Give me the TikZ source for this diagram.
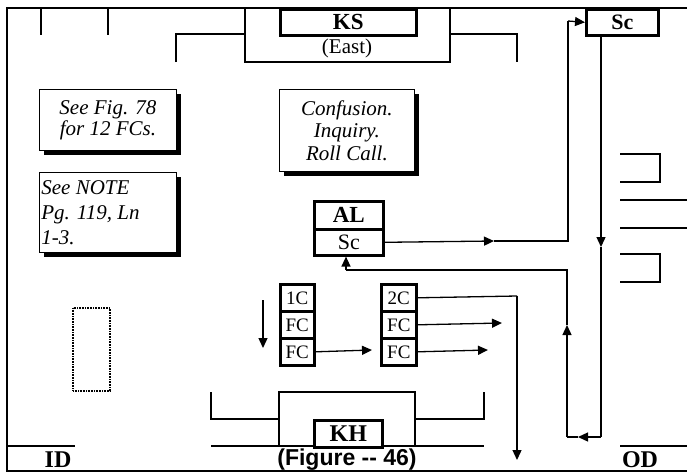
\documentclass[tikz,border=0pt]{standalone}
\usepackage{fontspec}
\setmainfont{Liberation Serif}
\newfontfamily\capfont{Liberation Sans}
\usetikzlibrary{arrows.meta,shadows}
\begin{document}
\begin{tikzpicture}[x=1pt,y=-1pt,line join=miter,
  wall/.style={line width=2.6pt},
  conn/.style={line width=1.3pt},
  arr/.style={conn,-{Triangle[length=10pt,width=9pt]}},
  cell/.style={draw,line width=2.6pt,inner sep=0pt,anchor=north west,fill=white,font=\fontsize{19}{20}\selectfont},
  bcell/.style={cell,font=\fontsize{23}{23}\selectfont\bfseries},
  rcell/.style={cell,font=\fontsize{22}{22}\selectfont},
  note/.style={draw,line width=0.8pt,fill=white,inner sep=0pt,anchor=north west,
    general shadow={fill=black,shadow xshift=5pt,shadow yshift=-5pt},
    font=\fontsize{21}{21}\selectfont\itshape},
  lab/.style={inner sep=0pt,font=\fontsize{24}{24}\selectfont\bfseries}
]
\useasboundingbox (0,0) rectangle (687,474);
% frame
\draw[wall] (687,8) -- (7,8) -- (7,471) -- (687,471);
\draw[wall] (41,8) -- (41,35);
\draw[wall] (108,8) -- (108,35);
% KS structure
\draw[wall] (176,62) -- (176,34) -- (245,34);
\draw[wall] (245,8) -- (245,62) -- (450,62) -- (450,8);
\draw[wall] (450,34) -- (517,34) -- (517,62);
\node[bcell,minimum width=136pt,minimum height=26pt] (ks) at (279,8) {KS};
\node[inner sep=0pt,font=\fontsize{21}{22}\selectfont] (east) at (347,48) {(East)};
% Sc top right
\node[bcell,minimum width=72pt,minimum height=26pt,font=\fontsize{22}{22}\selectfont\bfseries] (sctop) at (585,8) {Sc};
% notes
\node[note,minimum width=137pt,minimum height=61pt,align=center] (n1) at (39,89) {See Fig. 78\\for 12 FCs.};
\node[note,minimum width=135pt,minimum height=82pt,align=center,font=\fontsize{21}{22.5}\selectfont\itshape] (n2) at (279,89) {Confusion.\\Inquiry.\\Roll Call.};
\node[note,minimum width=137pt,minimum height=80pt,text width=133pt,align=flush left,inner xsep=2pt,font=\fontsize{21}{25}\selectfont\itshape] (n3) at (39,172) {See NOTE\\Pg. 119, Ln\\1-3.};
% dotted rect
\draw[line width=2pt,dash pattern=on 0.8pt off 0.8pt] (73,308) rectangle (110,391);
% AL box
\node[bcell,minimum width=69pt,minimum height=28pt] (al) at (313,200) {AL};
\node[rcell,minimum width=69pt,minimum height=26pt] (alsc) at (313,228) {Sc};
% cells
\node[cell,minimum width=34pt,minimum height=27pt] (c1a) at (279,283) {1C};
\node[cell,minimum width=34pt,minimum height=27pt] (c1b) at (279,310) {FC};
\node[cell,minimum width=34pt,minimum height=27pt] (c1c) at (279,337) {FC};
\node[cell,minimum width=35pt,minimum height=27pt] (c2a) at (380,283) {2C};
\node[cell,minimum width=35pt,minimum height=27pt] (c2b) at (380,310) {FC};
\node[cell,minimum width=35pt,minimum height=27pt] (c2c) at (380,337) {FC};
% right brackets
\draw[wall] (620,154) -- (660,154) -- (660,182) -- (620,182);
\draw[wall] (620,200) -- (687,200);
\draw[wall] (620,228) -- (687,228);
\draw[wall] (620,254) -- (660,254) -- (660,282) -- (620,282);
% KH structure
\draw[wall] (211,392) -- (211,419) -- (279,419);
\draw[wall] (279,446) -- (279,392) -- (415,392) -- (415,446);
\draw[wall] (415,419) -- (484,419) -- (484,392);
\draw[wall] (211,446) -- (484,446);
\node[bcell,minimum width=68pt,minimum height=27pt,font=\fontsize{24}{24}\selectfont\bfseries] (kh) at (313,419) {KH};
\draw[wall] (7,446) -- (75,446);
\draw[wall] (620,446) -- (687,446);
\node[lab] (id) at (58,460) {ID};
\node[lab] (od) at (640,460) {OD};
\node[inner sep=0pt,font=\fontsize{23}{23}\selectfont\capfont\bfseries] (fig) at (347,460) {(Figure -- 46)};
% connectors
\coordinate (a1) at (494,241);
\coordinate (a2) at (568,241);
\coordinate (a3) at (568,21);
\draw[arr] (alsc.east) -- (a1);
\draw[conn] (a1) -- (a2) -- (a3);
\draw[arr] (a3) -- (sctop.west);
\coordinate (b0) at (601,34);
\coordinate (b1) at (601,247);
\coordinate (b2) at (601,437);
\coordinate (b3) at (578,437);
\coordinate (b4) at (567,437);
\coordinate (b5) at (567,325);
\coordinate (b6) at (567,270);
\coordinate (b7) at (346,270);
\draw[arr] (b0) -- (b1);
\draw[conn] (b1) -- (b2);
\draw[arr] (b2) -- (b3);
\draw[conn] (b3) -- (b4);
\draw[arr] (b4) -- (b5);
\draw[conn] (b5) -- (b6) -- (b7);
\draw[arr] (b7) -- (alsc.south -| b7);
\coordinate (d1) at (263,300);
\coordinate (d2) at (263,348);
\draw[arr] (d1) -- (d2);
\coordinate (e1) at (372,350);
\draw[arr] (c1c.east) -- (e1);
\coordinate (f1) at (517,296);
\coordinate (f2) at (517,460);
\draw[conn] (c2a.east) -- (f1);
\draw[arr] (f1) -- (f2);
\coordinate (g1) at (502,323);
\draw[arr] (c2b.east) -- (g1);
\coordinate (h1) at (488,350);
\draw[arr] (c2c.east) -- (h1);
\end{tikzpicture}
\end{document}
